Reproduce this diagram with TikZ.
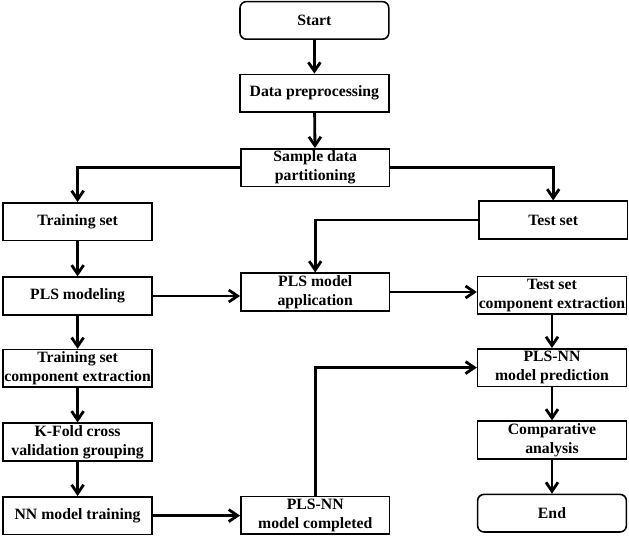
\documentclass[tikz,border=0pt]{standalone}
\usepackage{fontspec}
\setmainfont{Liberation Serif}
\usetikzlibrary{arrows.meta}

\begin{document}
\begin{tikzpicture}
\tikzstyle{every node}+=[inner sep=0pt,font=\bfseries\fontsize{11.2}{13.5}\selectfont,align=center]
\tikzstyle{box}=[draw=black,line width=1.1pt,minimum width=3.72cm,minimum height=0.94cm]
\tikzstyle{term}=[box,rounded corners=0.16cm]
\tikzstyle{link}=[line width=2pt,-{Straight Barb[length=2.2mm,width=3mm]}]
\useasboundingbox (0,0) rectangle (15.725,-13.4);
\node [term] (start) at (7.86,-0.51) {Start};
\node [box] (prep) at (7.86,-2.33) {Data preprocessing};
\node [box] (part) at (7.88,-4.19) {Sample data\\partitioning};
\node [box] (train) at (1.94,-5.54) {Training set};
\node [box] (test) at (13.83,-5.5) {Test set};
\node [box] (plsmod) at (1.94,-7.4) {PLS modeling};
\node [box] (plsapp) at (7.88,-7.3) {PLS model\\application};
\node [box] (testcomp) at (13.8,-7.38) {Test set\\component extraction};
\node [box] (traincomp) at (1.94,-9.21) {Training set\\component extraction};
\node [box] (pred) at (13.8,-9.19) {PLS-NN\\model prediction};
\node [box] (kfold) at (1.94,-11.05) {K-Fold cross\\validation grouping};
\node [box] (compare) at (13.8,-11.0) {Comparative\\analysis};
\node [box] (nntrain) at (1.94,-12.89) {NN model training};
\node [box] (done) at (7.88,-12.88) {PLS-NN\\model completed};
\node [term] (end) at (13.8,-12.83) {End};
\draw [link] (start) -- (prep);
\draw [link] (prep) -- (part);
\draw [link] (part.west) -| (train.north);
\draw [link] (part.east) -| (test.north);
\draw [link] (train) -- (plsmod);
\draw [link] (plsmod.east) -- (plsmod.east -| plsapp.west);
\draw [link] (test.west) -| (plsapp.north);
\draw [link] (plsapp.east) -- (plsapp.east -| testcomp.west);
\draw [link] (testcomp) -- (pred);
\draw [link] (plsmod) -- (traincomp);
\draw [link] (traincomp) -- (kfold);
\draw [link] (kfold) -- (nntrain);
\draw [link] (nntrain.east) -- (nntrain.east -| done.west);
\draw [link] (done.north) |- (pred.west);
\draw [link] (pred) -- (compare);
\draw [link] (compare) -- (end);
\end{tikzpicture}
\end{document}
